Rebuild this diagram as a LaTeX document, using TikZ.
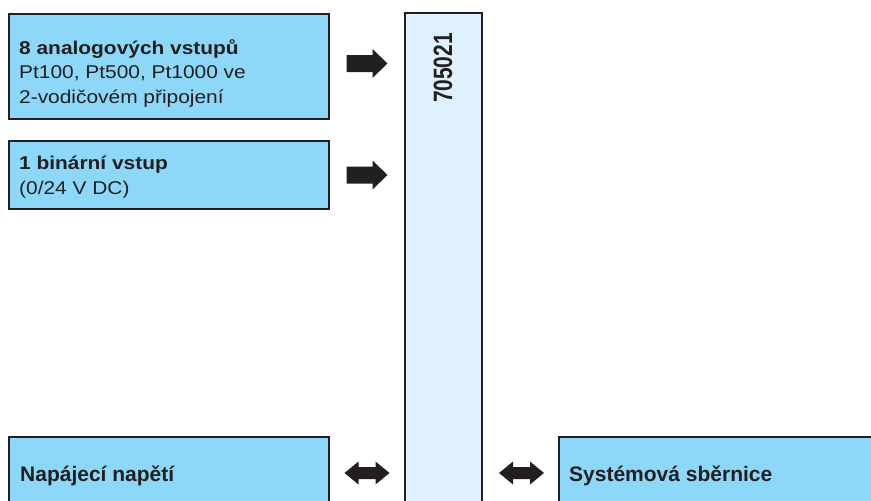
\documentclass[tikz,border=0pt]{standalone}
\usepackage{fontspec}
\setmainfont{Liberation Sans}
\newfontfamily\widesans{Liberation Sans}[FakeStretch=1.13]
\newfontfamily\tallsans{Liberation Sans}[FakeStretch=0.79]
\usetikzlibrary{calc}
\definecolor{inkline}{HTML}{231F20}
\definecolor{boxblue}{HTML}{8DD8F8}
\definecolor{coreblue}{HTML}{DFF1FC}
\tikzset{
  frame/.style={draw=inkline, line width=1.6pt, inner sep=0pt, outer sep=0pt, anchor=north west},
  iobox/.style={frame, fill=boxblue},
  corebox/.style={frame, fill=coreblue},
  toptext/.style={anchor=base west, align=left, inner sep=0pt, text=inkline,
    font=\widesans\fontsize{18.5}{24.5}\selectfont},
  bottext/.style={anchor=base west, inner sep=0pt, text=inkline,
    font=\bfseries\fontsize{21}{24}\selectfont},
  fwdarrow/.pic={\fill[inkline] (-20.5,-8.5) -- (5.5,-8.5) -- (5.5,-14.5) -- (20.5,0)
    -- (5.5,14.5) -- (5.5,8.5) -- (-20.5,8.5) -- cycle;},
  dblarrow/.pic={\fill[inkline] (-22.5,0) -- (-8.5,-11.5) -- (-8.5,-6) -- (8.5,-6)
    -- (8.5,-11.5) -- (22.5,0) -- (8.5,11.5) -- (8.5,6) -- (-8.5,6) -- (-8.5,11.5) -- cycle;}
}
\begin{document}
\begin{tikzpicture}[x=1pt,y=-1pt]
\useasboundingbox (0,0) rectangle (871,501);
\clip (0,0) rectangle (871,501);

% module column and the blocks around it
\node[corebox, minimum width=77pt, minimum height=520pt] (core) at (405,13) {};
\node[iobox, minimum width=320pt, minimum height=105pt] (ain) at (9,14) {};
\node[iobox, minimum width=320pt, minimum height=68pt] (bin) at (9,141) {};
\node[iobox, minimum width=320pt, minimum height=100pt] (power) at (9,437) {};
\node[iobox, minimum width=340pt, minimum height=100pt] (bus) at (559,437) {};

% labels (base anchor sits on the last line)
\node[toptext] (ainlabel) at ($(ain.north west)+(10,89)$)
  {\textbf{8 analogových vstupů}\\Pt100, Pt500, Pt1000 ve\\2-vodičovém připojení};
\node[toptext] (binlabel) at ($(bin.north west)+(10,53)$)
  {\textbf{1 binární vstup}\\(0/24 V DC)};
\node[bottext] (powerlabel) at ($(power.north west)+(11,44)$) {Napájecí napětí};
\node[bottext] (buslabel) at ($(bus.north west)+(10,44)$) {Systémová sběrnice};
\node[rotate=90, inner sep=0pt, text=inkline,
  font=\tallsans\bfseries\fontsize{26.5}{28}\selectfont] (coreid) at (443,68) {705021};

% signal flow arrows
\path ($(ain.east)!0.5!(ain.east -| core.west)$) ++(0,-3) pic {fwdarrow};
\path ($(bin.east)!0.5!(bin.east -| core.west)$) pic {fwdarrow};
\path ($(power.north east)!0.5!(core.west |- power.north)$) ++(0,36) pic {dblarrow};
\path ($(core.east |- bus.north)!0.5!(bus.north west)$) ++(1,36) pic {dblarrow};
\end{tikzpicture}
\end{document}
